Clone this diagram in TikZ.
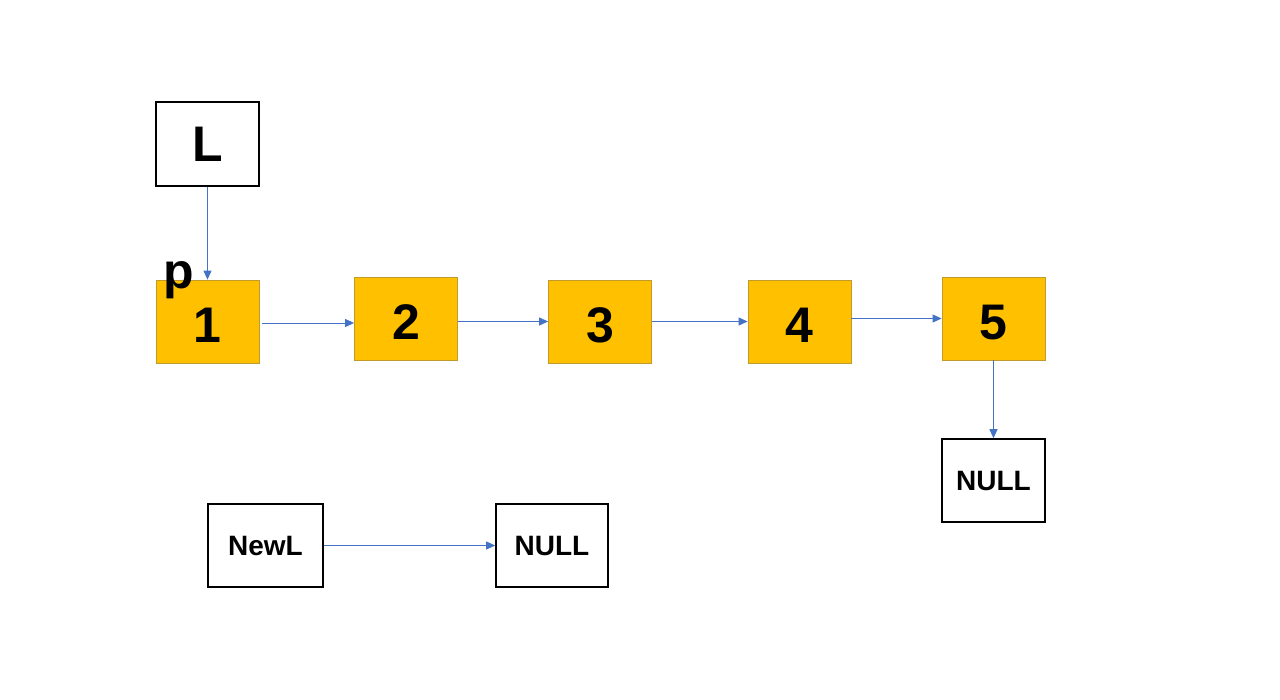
\documentclass[tikz,border=0pt]{standalone}
\usepackage{fontspec}
\setmainfont{Liberation Sans}
\usetikzlibrary{arrows.meta}
\definecolor{nodeorange}{HTML}{FFC000}
\definecolor{nodeedge}{HTML}{C09A2A}
\definecolor{linkblue}{HTML}{4472C4}
\begin{document}
\begin{tikzpicture}[x=1pt,y=-1pt,
  ptrbox/.style={draw=black, line width=1.6pt, fill=white, minimum width=103pt, minimum height=84pt, inner sep=0pt, font=\bfseries\fontsize{50}{60}\selectfont},
  smallbox/.style={draw=black, line width=1.6pt, fill=white, minimum height=83pt, inner sep=0pt, font=\bfseries\fontsize{28}{34}\selectfont},
  listnode/.style={draw=nodeedge, line width=0.8pt, fill=nodeorange, minimum width=103pt, minimum height=83pt, inner sep=0pt, text height=42pt, text depth=0pt, font=\bfseries\fontsize{50}{60}\selectfont},
  link/.style={draw=linkblue, line width=0.9pt, -{Triangle[length=9pt,width=8pt]}}]
\useasboundingbox (0,0) rectangle (1280,699);
\node[ptrbox] (L) at (207.5,144) {L};
\node[listnode] (n1) at (207.5,321.5) {1};
\node[listnode] (n2) at (406,318.5) {2};
\node[listnode] (n3) at (600,321.5) {3};
\node[listnode] (n4) at (799.5,321.5) {4};
\node[listnode] (n5) at (993.5,318.5) {5};
\node[smallbox, minimum width=103pt] (null1) at (993.5,480.5) {NULL};
\node[smallbox, minimum width=115pt] (newl) at (265.5,545.5) {NewL};
\node[smallbox, minimum width=112pt] (null2) at (552,545.5) {NULL};
\node[anchor=base, inner sep=0pt, font=\bfseries\fontsize{50}{60}\selectfont] (p) at (179,288) {p};
\draw[link] (L.south) -- (n1.north);
\draw[link] ([xshift=3pt,yshift=-1.5pt]n1.east) -- ([yshift=-1.5pt]n2.west |- n1.east);
\draw[link] (n2.east |- n3.west) -- (n3.west);
\draw[link] (n3.east) -- (n4.west);
\draw[link] (n4.east |- n5.west) -- (n5.west);
\draw[link] (n5.south) -- (null1.north);
\draw[link] (newl.east) -- (null2.west);
\end{tikzpicture}
\end{document}
